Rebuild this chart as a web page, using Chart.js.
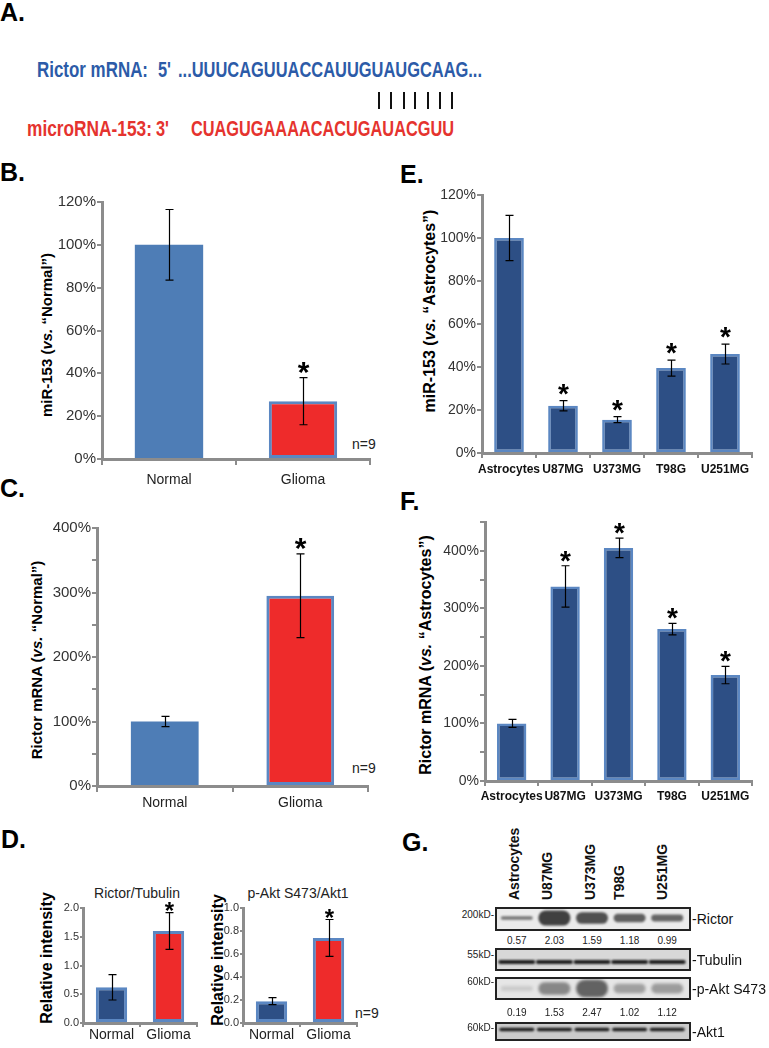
<!DOCTYPE html>
<html>
<head>
<meta charset="utf-8">
<script src="https://cdn.jsdelivr.net/npm/chart.js@4.4.1/dist/chart.umd.min.js"></script>
<style>
body { margin:0; background:#fff; width:769px; height:1048px; position:relative; overflow:hidden; font-family:"Liberation Sans", Arial, sans-serif; }
canvas { position:absolute; }
.abs { position:absolute; white-space:nowrap; }
.panel { position:absolute; font-weight:bold; font-size:25px; line-height:24px; color:#000; }
.ytitle { position:absolute; font-weight:bold; white-space:nowrap; transform:translate(-50%,-50%) rotate(-90deg); color:#000; line-height:18px; }
.seq { position:absolute; font-weight:bold; font-size:22px; line-height:22px; white-space:pre; transform-origin:0 0; }
.rot { position:absolute; transform-origin:0 0; transform:rotate(-90deg); white-space:nowrap; font-weight:bold; font-size:14px; line-height:16px; color:#111; }
.num { position:absolute; font-size:10px; line-height:12px; color:#222; transform:translateX(-50%); white-space:nowrap; }
.kd { position:absolute; font-size:10px; line-height:12px; color:#222; text-align:right; width:60px; white-space:nowrap; }
.prot { position:absolute; font-size:14px; line-height:16px; color:#111; white-space:nowrap; }
</style>
</head>
<body>

<div class="panel" style="left:0;top:0">A.</div>
<div class="panel" style="left:0;top:160px">B.</div>
<div class="panel" style="left:0;top:476px">C.</div>
<div class="panel" style="left:1px;top:827px">D.</div>
<div class="panel" style="left:400px;top:162px">E.</div>
<div class="panel" style="left:400px;top:489px">F.</div>
<div class="panel" style="left:402px;top:830px">G.</div>

<div class="ytitle" style="left:47px;top:335px;font-size:15px">miR-153 (<i>vs.</i> “Normal”)</div>
<div class="ytitle" style="left:37px;top:660px;font-size:15px">Rictor mRNA (<i>vs.</i> “Normal”)</div>
<div class="ytitle" style="left:47px;top:958px;font-size:16px">Relative intensity</div>
<div class="ytitle" style="left:218px;top:960px;font-size:16px">Relative intensity</div>
<div class="ytitle" style="left:430px;top:311px;font-size:16px">miR-153 (<i>vs.</i> “Astrocytes”)</div>
<div class="ytitle" style="left:426px;top:655px;font-size:16px">Rictor mRNA (<i>vs.</i> “Astrocytes”)</div>

<div class="abs" style="left:352px;top:436px;font-size:14px;line-height:16px;color:#222">n=9</div>
<div class="abs" style="left:352px;top:760px;font-size:14px;line-height:16px;color:#222">n=9</div>
<div class="abs" style="left:355px;top:1005px;font-size:14px;line-height:16px;color:#222">n=9</div>
<div class="abs" style="left:137px;top:885px;font-size:14px;line-height:16px;color:#222;transform:translateX(-50%)">Rictor/Tubulin</div>
<div class="abs" style="left:298px;top:885px;font-size:14px;line-height:16px;color:#222;transform:translateX(-50%)">p-Akt S473/Akt1</div>

<script>
// ---- data ----
const tissueGroups = ['Normal', 'Glioma'];
const mir153Tissue = [100, 27];
const mir153TissueErr = [16.5, 11];
const rictorTissue = [100, 295];
const rictorTissueErr = [8, 65];
const tissueStars = [false, true];

const rictorTubulin = [0.62, 1.6];
const rictorTubulinErr = [0.22, 0.32];
const pAktAkt1 = [0.19, 0.74];
const pAktAkt1Err = [0.03, 0.16];

const cellLines = ['Astrocytes', 'U87MG', 'U373MG', 'T98G', 'U251MG'];
const mir153Cells = [100, 22, 15.5, 39.5, 46];
const mir153CellsErr = [10.5, 2.4, 1.4, 3.7, 4.6];
const rictorCells = [100, 338, 405, 264, 184];
const rictorCellsErr = [7, 36, 17, 10, 15];
const cellStars = [false, true, true, true, true];

// western blot quantification (band intensities)
const rictorQuant = [0.57, 2.03, 1.59, 1.18, 0.99];
const pAktQuant = [0.19, 1.53, 2.47, 1.02, 1.12];
const tubulinLoad = [1, 1, 1, 1, 1];
const akt1Load = [1, 1, 1, 1, 1];

Chart.defaults.font.family = '"Liberation Sans", Arial, sans-serif';

const AXIS = '#8c8c8c';
const BLUE = '#4e7db6', RED = '#ee2b2b', NAVY = '#2d4f85', EDGE = '#5b87c2';

// error bars + significance stars
const errorBars = {
    id: 'errbars',
    afterDatasetsDraw(chart, args, o) {
        const ctx = chart.ctx, y = chart.scales.y;
        const vals = chart.data.datasets[0].data;
        ctx.save();
        ctx.strokeStyle = '#000';
        ctx.lineWidth = 1.2;
        chart.getDatasetMeta(0).data.forEach((bar, i) => {
            const top = y.getPixelForValue(vals[i] + o.errs[i]);
            const bot = y.getPixelForValue(vals[i] - o.errs[i]);
            const x = Math.round(bar.x) + 0.5;
            ctx.beginPath();
            ctx.moveTo(x, top); ctx.lineTo(x, bot);
            ctx.moveTo(x - o.cap, top); ctx.lineTo(x + o.cap, top);
            ctx.moveTo(x - o.cap, bot); ctx.lineTo(x + o.cap, bot);
            ctx.stroke();
            if (o.stars[i]) {
                ctx.fillStyle = '#000';
                ctx.font = 'bold ' + o.starSize + 'px "Liberation Sans", Arial';
                ctx.textAlign = 'center';
                ctx.textBaseline = 'alphabetic';
                ctx.fillText('*', x, top - o.starGap + 0.57 * o.starSize);
            }
        });
        ctx.restore();
    }
};

function barChart(o) {
    const cv = document.createElement('canvas');
    cv.width = o.w; cv.height = o.h;
    cv.style.left = o.left + 'px';
    cv.style.top = o.top + 'px';
    document.body.appendChild(cv);
    return new Chart(cv, {
        type: 'bar',
        data: {
            labels: o.labels,
            datasets: [{
                data: o.values,
                backgroundColor: o.fill,
                borderColor: o.edge,
                borderWidth: o.edgeW,
                borderSkipped: false,
                barPercentage: o.barPct,
                categoryPercentage: 1
            }]
        },
        options: {
            responsive: false,
            animation: false,
            layout: { padding: { top: o.padTop, right: o.padRight, left: 0, bottom: 0 } },
            plugins: {
                legend: { display: false },
                tooltip: { enabled: false },
                errbars: { errs: o.errs, stars: o.stars, cap: o.cap, starSize: o.starSize, starGap: o.starGap }
            },
            scales: {
                x: {
                    offset: true,
                    grid: { offset: true, drawOnChartArea: false, tickLength: o.xTick, color: AXIS, lineWidth: 2 },
                    border: { color: AXIS, width: 3 },
                    ticks: { font: { size: o.xFont, weight: o.xBold ? 'bold' : 'normal' }, color: o.xBold ? '#111' : '#222', padding: o.xPad, maxRotation: 0, autoSkip: false },
                    afterFit: s => { s.height = o.xH; }
                },
                y: {
                    min: 0, max: o.max,
                    grid: { drawOnChartArea: false, tickLength: o.yTick || 5, color: AXIS, lineWidth: 2 },
                    border: { color: AXIS, width: 3 },
                    ticks: { stepSize: o.step, font: { size: o.yFont }, color: '#333', padding: o.yPad || 1, callback: o.fmt },
                    afterFit: s => { s.width = o.yW; }
                }
            }
        },
        plugins: [errorBars]
    });
}

const pct = v => v + '%';
const pct100 = v => (v % 100 === 0 ? v + '%' : '');

// B
barChart({ left: 52, top: 190, w: 323, h: 299, yW: 50, xH: 30, padTop: 12, padRight: 5,
    labels: tissueGroups, values: mir153Tissue, errs: mir153TissueErr, stars: tissueStars,
    fill: [BLUE, RED], edge: [BLUE, EDGE], edgeW: [0, 3], barPct: 0.51,
    max: 120, step: 20, fmt: pct, yFont: 15, xFont: 14, xTick: 6, xPad: 7,
    cap: 4, starSize: 30, starGap: 13 });

// C
barChart({ left: 47, top: 516, w: 326, h: 300, yW: 50, xH: 30, padTop: 12, padRight: 5,
    labels: tissueGroups, values: rictorTissue, errs: rictorTissueErr, stars: tissueStars,
    fill: [BLUE, RED], edge: [BLUE, EDGE], edgeW: [0, 3], barPct: 0.5,
    max: 400, step: 50, fmt: pct100, yFont: 15, xFont: 14, xTick: 6, xPad: 3,
    cap: 4, starSize: 30, starGap: 13 });

// D left
barChart({ left: 55, top: 898, w: 145, h: 147, yW: 28, xH: 22, padTop: 10, padRight: 3,
    labels: tissueGroups, values: rictorTubulin, errs: rictorTubulinErr, stars: tissueStars,
    fill: [NAVY, RED], edge: EDGE, edgeW: 3, barPct: 0.55,
    max: 2, step: 0.5, fmt: v => v.toFixed(1), yFont: 11, yTick: 3, yPad: 1, xFont: 14, xTick: 4, xPad: 0,
    cap: 4, starSize: 24, starGap: 7 });

// D right
barChart({ left: 215, top: 898, w: 145, h: 147, yW: 28, xH: 22, padTop: 10, padRight: 3,
    labels: tissueGroups, values: pAktAkt1, errs: pAktAkt1Err, stars: tissueStars,
    fill: [NAVY, RED], edge: EDGE, edgeW: 3, barPct: 0.55,
    max: 1, step: 0.2, fmt: v => v.toFixed(1), yFont: 11, yTick: 3, yPad: 1, xFont: 14, xTick: 4, xPad: 0,
    cap: 4, starSize: 24, starGap: 7 });

// E
barChart({ left: 436, top: 183, w: 321, h: 296, yW: 46, xH: 26, padTop: 12, padRight: 5,
    labels: cellLines, values: mir153Cells, errs: mir153CellsErr, stars: cellStars,
    fill: NAVY, edge: EDGE, edgeW: 2.5, barPct: 0.55,
    max: 120, step: 20, fmt: pct, yFont: 14, xFont: 12, xBold: true, xTick: 5, xPad: 4,
    cap: 4, starSize: 28, starGap: 14 });

// F
barChart({ left: 439, top: 510, w: 318, h: 297, yW: 46, xH: 26, padTop: 12, padRight: 5,
    labels: cellLines, values: rictorCells, errs: rictorCellsErr, stars: cellStars,
    fill: NAVY, edge: EDGE, edgeW: 2.5, barPct: 0.55,
    max: 450, step: 50, fmt: pct100, yFont: 14, xFont: 12, xBold: true, xTick: 5, xPad: 3,
    cap: 4, starSize: 28, starGap: 12 });

// ---- G: western blot strips ----
const bandPlugin = {
    id: 'bands',
    beforeDatasetsDraw(chart, args, o) {
        const { ctx, width, height } = chart;
        const vals = chart.data.datasets[0].data;
        const cy = height / 2 + o.dy;
        ctx.save();
        ctx.fillStyle = o.bg;
        ctx.fillRect(0, 0, width, height);
        ctx.filter = 'blur(' + o.blur + 'px)';
        chart.getDatasetMeta(0).data.forEach((bar, i) => {
            const h = Math.max(2, o.h0 + o.hk * vals[i]);
            const a = Math.min(o.aMax || 1, o.a0 + o.ak * vals[i]);
            ctx.fillStyle = 'rgba(' + o.rgb + ',' + a + ')';
            ctx.beginPath();
            ctx.roundRect(bar.x - o.w / 2, cy - h / 2, o.w, h, h / 2);
            ctx.fill();
        });
        ctx.filter = 'none';
        ctx.strokeStyle = '#222';
        ctx.lineWidth = 2;
        ctx.strokeRect(1, 1, width - 2, height - 2);
        ctx.restore();
    }
};

function blotStrip(o) {
    const cv = document.createElement('canvas');
    cv.width = 196; cv.height = o.h;
    cv.style.left = '495px';
    cv.style.top = o.top + 'px';
    document.body.appendChild(cv);
    const ch = new Chart(cv, {
        type: 'bar',
        data: { labels: cellLines, datasets: [{ data: o.values, backgroundColor: 'rgba(0,0,0,0)', borderWidth: 0 }] },
        options: {
            responsive: false,
            animation: false,
            layout: { padding: { left: 3, right: 5, top: 0, bottom: 0 } },
            plugins: { legend: { display: false }, tooltip: { enabled: false }, bands: o.band },
            scales: { x: { display: false, offset: true }, y: { display: false, min: 0, max: 3 } }
        },
        plugins: [bandPlugin]
    });
    const kd = document.createElement('div');
    kd.className = 'kd';
    kd.textContent = o.kd;
    kd.style.left = '434px';
    kd.style.top = (o.kdY - 6) + 'px';
    document.body.appendChild(kd);
    const pr = document.createElement('div');
    pr.className = 'prot';
    pr.textContent = o.name;
    pr.style.left = '692px';
    pr.style.top = (o.top + o.h / 2 - 8) + 'px';
    document.body.appendChild(pr);
    if (o.quantY) {
        ch.getDatasetMeta(0).data.forEach((bar, i) => {
            const n = document.createElement('div');
            n.className = 'num';
            n.textContent = o.values[i].toFixed(2);
            n.style.left = (495 + bar.x) + 'px';
            n.style.top = (o.quantY - 6) + 'px';
            document.body.appendChild(n);
        });
    }
}

blotStrip({ top: 907, h: 24, values: rictorQuant, name: '-Rictor', kd: '200kD-', kdY: 915, quantY: 941,
    band: { bg: '#ebebeb', rgb: '45,45,45', w: 32, h0: -1, hk: 8, a0: 0.5, ak: 0.2, aMax: 0.9, dy: -1, blur: 1.3 } });
blotStrip({ top: 948, h: 23, values: tubulinLoad, name: '-Tubulin', kd: '55kD-', kdY: 955,
    band: { bg: '#d8d8d8', rgb: '20,20,20', w: 37, h0: 0, hk: 4, a0: 0.95, ak: 0, dy: 2.5, blur: 0.8 } });
blotStrip({ top: 977, h: 23, values: pAktQuant, name: '-p-Akt S473', kd: '60kD-', kdY: 982, quantY: 1013,
    band: { bg: '#e6e6e6', rgb: '60,60,60', w: 32, h0: 4, hk: 5.5, a0: 0.1, ak: 0.3, aMax: 0.78, dy: 0, blur: 1.6 } });
blotStrip({ top: 1022, h: 19, values: akt1Load, name: '-Akt1', kd: '60kD-', kdY: 1028,
    band: { bg: '#cbcbcb', rgb: '20,20,20', w: 35, h0: 0, hk: 3.5, a0: 0.95, ak: 0, dy: -2, blur: 0.8 } });

// lane labels (rotated)
const laneX = [514, 547, 590, 619, 662];
cellLines.forEach((name, i) => {
    const d = document.createElement('div');
    d.className = 'rot';
    d.textContent = name;
    d.style.left = (laneX[i] - 8) + 'px';
    d.style.top = '900px';
    document.body.appendChild(d);
});

// ---- A: sequence pairing ----
function seq(text, color, left, top, width) {
    const s = document.createElement('span');
    s.className = 'seq';
    s.textContent = text;
    s.style.color = color;
    s.style.left = left + 'px';
    s.style.top = top + 'px';
    document.body.appendChild(s);
    const w = s.getBoundingClientRect().width;
    s.style.transform = 'scaleX(' + (width / w) + ')';
}
const MRNA = '#2c5ba8', MIR = '#e5332e';
seq('Rictor mRNA:', MRNA, 37, 59, 111);
seq("5'", MRNA, 158, 59, 13);
seq('...UUUCAGUUACCAUUGUAUGCAAG...', MRNA, 178, 59, 304);
seq('microRNA-153:', MIR, 27, 118, 125);
seq("3'", MIR, 156, 118, 13);
seq('CUAGUGAAAACACUGAUACGUU', MIR, 191, 118, 263);
[378, 390, 403, 414, 427, 439, 451].forEach(x => {
    const l = document.createElement('div');
    l.style.cssText = 'position:absolute;width:2px;height:17px;background:#111;top:92px;left:' + x + 'px';
    document.body.appendChild(l);
});
</script>
</body>
</html>
